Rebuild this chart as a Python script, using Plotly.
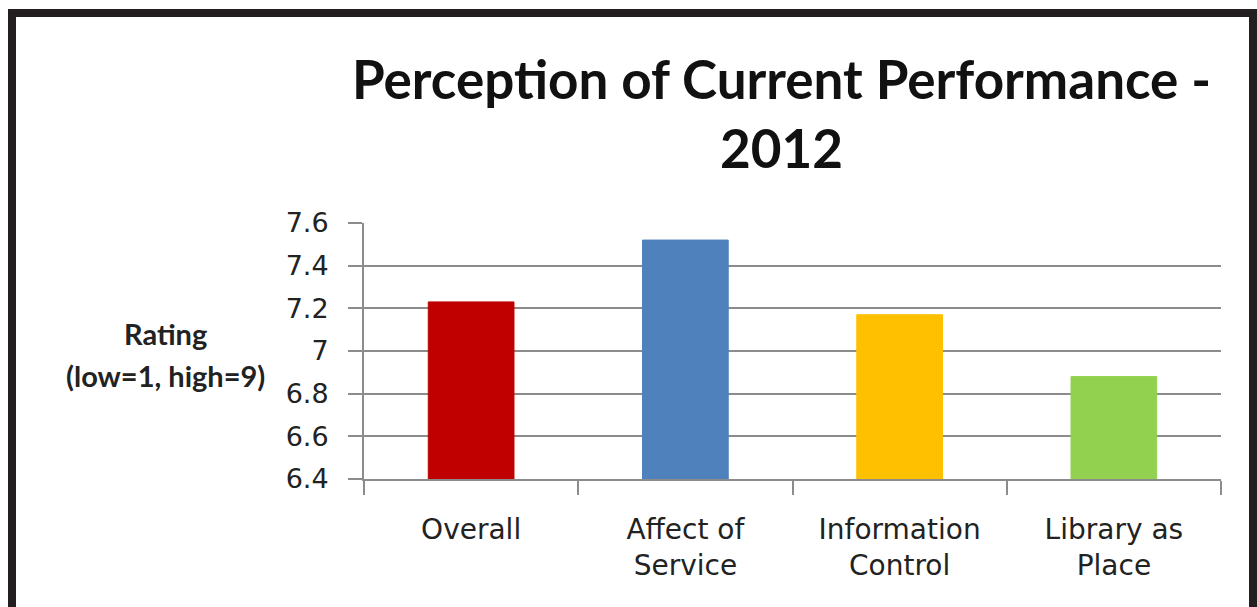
import plotly.graph_objects as go

categories = ["Overall", "Affect of<br>Service", "Information<br>Control", "Library as<br>Place"]
ratings = [7.23, 7.52, 7.17, 6.88]
bar_colors = ["#C00000", "#4F81BD", "#FFC000", "#92D050"]
y_ticks = [6.4, 6.6, 6.8, 7.0, 7.2, 7.4, 7.6]
y_tick_labels = ["6.4", "6.6", "6.8", "7", "7.2", "7.4", "7.6"]
title_text = "Perception of Current Performance -<br>2012"
y_title_lines = ["Rating", "(low=1, high=9)"]

W, H = 1257, 607
L, R, T, B = 364, 1221, 223, 479

def px(x):
    return (x - L) / (R - L)

def py(y):
    return (B - y) / (B - T)

fig = go.Figure(go.Bar(
    x=categories, y=ratings,
    marker=dict(color=bar_colors, line=dict(color=bar_colors, width=1)),
    width=0.4,
))

grid = "#8c8c8c"
fig.update_layout(
    width=W, height=H, autosize=False,
    margin=dict(l=L, r=W - R, t=T, b=H - B, pad=0),
    paper_bgcolor="white", plot_bgcolor="white",
    showlegend=False,
    xaxis=dict(
        type="category", tickson="boundaries", ticks="outside", ticklen=14,
        tickcolor=grid, tickwidth=2, showline=True, linecolor=grid, linewidth=2,
        showgrid=False, tickfont=dict(family="DejaVu Sans", size=28, color="#222"),
        range=[-0.5, 3.5], ticklabelstandoff=24,
    ),
    yaxis=dict(
        range=[6.4, 7.6], tickvals=y_ticks, ticktext=y_tick_labels,
        ticks="outside", ticklen=14, tickcolor=grid, tickwidth=2,
        showline=True, linecolor=grid, linewidth=2,
        showgrid=True, gridcolor=grid, gridwidth=2, zeroline=False,
        tickfont=dict(family="DejaVu Sans", size=27, color="#222"),
        ticklabelstandoff=14,
    ),
    annotations=[
        dict(text="<b>" + title_text + "</b>", xref="paper", yref="paper",
             x=px(781), y=py(113), xanchor="center", yanchor="middle",
             showarrow=False, font=dict(family="Lato", size=53, color="#111"),
             align="center"),
        dict(text="<b>" + y_title_lines[0] + "</b>", xref="paper", yref="paper",
             x=px(165), y=py(333), xanchor="center", yanchor="middle",
             showarrow=False, font=dict(family="Lato", size=29, color="#222")),
        dict(text="<b>" + y_title_lines[1] + "</b>", xref="paper", yref="paper",
             x=px(165), y=py(375), xanchor="center", yanchor="middle",
             showarrow=False, font=dict(family="Lato", size=29, color="#222")),
    ],
    shapes=[
        dict(type="rect", xref="paper", yref="paper",
             x0=px(12), x1=px(1253), y0=py(640), y1=py(13),
             line=dict(color="#231f20", width=8), fillcolor="rgba(0,0,0,0)"),
    ],
)

fig.write_html("out.html", config={"displayModeBar": False},
               post_script="document.body.style.margin='0';")
